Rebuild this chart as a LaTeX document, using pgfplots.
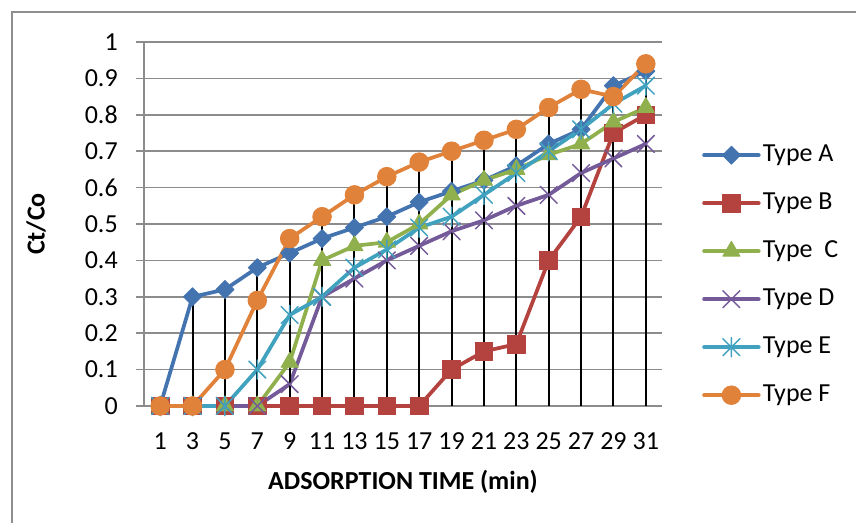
\documentclass[border=0pt]{standalone}
\usepackage{pgfplots}
\pgfplotsset{compat=1.18}
\usepackage{pgfplotstable}
\usepackage{fontspec}
\setmainfont{Carlito}

\definecolor{cA}{HTML}{4474B0}
\definecolor{cB}{HTML}{B4433F}
\definecolor{cC}{HTML}{90B04E}
\definecolor{cD}{HTML}{745A99}
\definecolor{cE}{HTML}{40A2BE}
\definecolor{cF}{HTML}{E0823A}
\definecolor{gridgray}{HTML}{8C8C8C}
\definecolor{framegray}{HTML}{8E8E8E}

\newcommand{\chartfont}{\fontsize{19.5}{23}\selectfont}

% Excel-style star: an x with a vertical bar through it
\pgfdeclareplotmark{xstar}{%
  \pgfpathmoveto{\pgfqpoint{-.7071\pgfplotmarksize}{-.7071\pgfplotmarksize}}%
  \pgfpathlineto{\pgfqpoint{.7071\pgfplotmarksize}{.7071\pgfplotmarksize}}%
  \pgfpathmoveto{\pgfqpoint{-.7071\pgfplotmarksize}{.7071\pgfplotmarksize}}%
  \pgfpathlineto{\pgfqpoint{.7071\pgfplotmarksize}{-.7071\pgfplotmarksize}}%
  \pgfpathmoveto{\pgfqpoint{0pt}{-.8\pgfplotmarksize}}%
  \pgfpathlineto{\pgfqpoint{0pt}{.8\pgfplotmarksize}}%
  \pgfusepathqstroke}

% Ct/Co against adsorption time; x is the category index (1,3,...,31 min)
\pgfplotstableread{
x   A     B     C     D     E     F     top
0   0     0     0     0     0     0     0
1   0.30  0     0     0     0     0     0.30
2   0.32  0     0     0     0     0.10  0.32
3   0.38  0     0     0     0.10  0.29  0.38
4   0.42  0     0.12  0.06  0.25  0.46  0.46
5   0.46  0     0.40  0.30  0.30  0.52  0.52
6   0.49  0     0.44  0.35  0.38  0.58  0.58
7   0.52  0     0.45  0.40  0.43  0.63  0.63
8   0.56  0     0.50  0.44  0.49  0.67  0.67
9   0.59  0.10  0.58  0.48  0.52  0.70  0.70
10  0.62  0.15  0.62  0.51  0.58  0.73  0.73
11  0.66  0.17  0.65  0.55  0.64  0.76  0.76
12  0.72  0.40  0.69  0.58  0.70  0.82  0.82
13  0.76  0.52  0.72  0.64  0.76  0.87  0.87
14  0.88  0.75  0.78  0.68  0.83  0.85  0.88
15  0.92  0.80  0.82  0.72  0.88  0.94  0.94
}\data

\begin{document}
\begin{tikzpicture}[x=0.75pt,y=0.75pt,font=\chartfont]
\useasboundingbox (0,0) rectangle (856,523);
\draw[framegray, line width=1.1pt] (12,-10) -- (12,511) -- (870,511);
\begin{axis}[
  at={(108pt,87.75pt)}, anchor=south west,
  scale only axis, width=388.5pt, height=273pt,
  xmin=-0.5, xmax=15.5, ymin=0, ymax=1,
  clip=false,
  axis x line=bottom, axis y line=left,
  axis line style={-, gridgray, line width=1.1pt},
  xtick=data,
  xticklabels={1,3,5,7,9,11,13,15,17,19,21,23,25,27,29,31},
  xtick style={draw=none},
  ytick={0,0.1,0.2,0.3,0.4,0.5,0.6,0.7,0.8,0.9,1},
  yticklabels={0,0.1,0.2,0.3,0.4,0.5,0.6,0.7,0.8,0.9,1},
  ytick style={gridgray, line width=1.1pt},
  tick align=outside, major tick length=6pt,
  ymajorgrids, grid style={gridgray, line width=1.1pt},
  tick label style={font=\chartfont},
  /pgf/number format/assume math mode=true,
  xticklabel style={anchor=base, yshift=-26.5pt, inner sep=0pt},
  yticklabel style={anchor=east, inner sep=0pt, xshift=-13.5pt},
  xlabel={\textbf{ADSORPTION TIME (min)}},
  ylabel={\textbf{Ct/Co}},
  xlabel style={at={(axis description cs:0.5,-0.209)}, anchor=center, font=\chartfont},
  ylabel style={at={(axis description cs:-0.2085,0.5)}, anchor=center, font=\chartfont},
  legend style={
    at={(axis description cs:1.073,0.73)}, anchor=north west,
    draw=none, fill=none, font=\chartfont,
    row sep=18pt, column sep=0pt,
    nodes={inner sep=0pt, text height=14pt, text depth=4pt},
  },
  legend cell align=left,
  legend image code/.code={%
    \path[draw=none, fill=none] (0pt,-5pt) rectangle (44pt,5pt);
    \draw[overlay,mark repeat=2,mark phase=2,#1] plot coordinates {(0pt,0pt) (20.5pt,0pt) (41pt,0pt)};},
  every axis plot/.append style={line width=2.8pt, line join=round, line cap=round},
]
\addplot[cA, mark=square*, mark size=4.8pt, mark options={rotate=45, line width=0.6pt, fill=cA}] table[x=x, y=A] {\data};
\addlegendentry{Type A}
\addplot[cB, mark=square*, mark size=6.6pt, mark options={line width=0.6pt, fill=cB}] table[x=x, y=B] {\data};
\addlegendentry{Type B}
\addplot[cC, mark=triangle*, mark size=7.5pt, mark options={line width=0.6pt, fill=cC}] table[x=x, y=C] {\data};
\addlegendentry{Type\ \ C}
\addplot[cD, mark=x, mark size=9pt, mark options={line width=1.1pt}] table[x=x, y=D] {\data};
\addlegendentry{Type D}
\addplot[cE, mark=xstar, mark size=9pt, mark options={line width=1.1pt}] table[x=x, y=E] {\data};
\addlegendentry{Type E}
\addplot[cF, mark=*, mark size=7pt, mark options={line width=0.6pt, fill=cF}] table[x=x, y=F] {\data};
\addlegendentry{Type F}
% drop lines from the axis up to the highest series at each time
\addplot[ycomb, black, line width=1.5pt, line cap=butt, mark=none, forget plot] table[x=x, y=top] {\data};
\end{axis}
\end{tikzpicture}
\end{document}
